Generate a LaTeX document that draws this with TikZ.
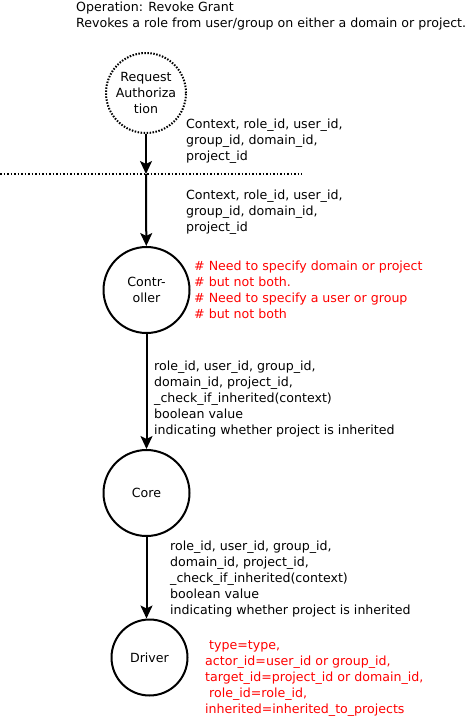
\documentclass[tikz,border=0pt]{standalone}
\usepackage{fontspec}
\setmainfont{DejaVu Sans}
\usepackage{xcolor}
\usepackage{tikz}
\usetikzlibrary{arrows.meta, positioning, calc}
\tikzstyle{stage} = [circle, draw=black, line width=2pt, minimum size=86pt, inner sep=0pt, align=center, font=\fontsize{12.6}{16}\selectfont]
\tikzstyle{request} = [stage, dash pattern=on 1.5pt off 1.5pt, minimum size=80pt]
\tikzstyle{arrow} = [line width=2pt,-{Stealth[length=13pt,width=12pt,inset=3pt]}]
\tikzstyle{note} = [anchor=north west, align=left, inner sep=0pt, font=\fontsize{12.6}{16}\selectfont]
\tikzstyle{remark} = [note, text=red]

\begin{document}
\begin{tikzpicture}[x=1pt, y=-1pt]
\useasboundingbox (0,0) rectangle (473,717);

\node (title) [note] at (76,2) {Operation: Revoke Grant\\Revokes a role from user/group on either a domain or project.};

\node (auth) [request] at (146,93) {Request\\Authoriza\\tion};
\coordinate (cut) at (146,174);
\node (ctrl) [stage] at (146.5,290) {Contr-\\oller};
\node (core) [stage] at (146.5,493) {Core};
\node (driver) [stage, minimum size=76pt] at (149.5,657.5) {Driver};

% boundary between request and service
\draw [line width=2pt, dash pattern=on 1.5pt off 2pt] (0,174) -- (302,174);

\draw [arrow] (auth) -- (cut);
\draw [arrow] (cut) -- (ctrl);
\draw [arrow] (ctrl) -- (core);
\draw [arrow] (core.south) -- (core.south |- driver.north);

\node (args1) [note] at (186,119) {Context, role\_id, user\_id,\\group\_id, domain\_id,\\project\_id};
\node (args2) [note] at (186,190) {Context, role\_id, user\_id,\\group\_id, domain\_id,\\project\_id};
\node (checks) [remark] at (194,261) {\# Need to specify domain or project\\\# but not both.\\\# Need to specify a user or group\\\# but not both};
\node (args3) [note] at (154,361) {role\_id, user\_id, group\_id,\\domain\_id, project\_id,\\\_check\_if\_inherited(context)\\boolean value\\indicating whether project is inherited};
\node (args4) [note] at (170,541) {role\_id, user\_id, group\_id,\\domain\_id, project\_id,\\\_check\_if\_inherited(context)\\boolean value\\indicating whether project is inherited};
\node (fields) [remark] at (205,640) {\ type=type,\\actor\_id=user\_id or group\_id,\\target\_id=project\_id or domain\_id,\\\ role\_id=role\_id,\\inherited=inherited\_to\_projects};

\end{tikzpicture}
\end{document}
